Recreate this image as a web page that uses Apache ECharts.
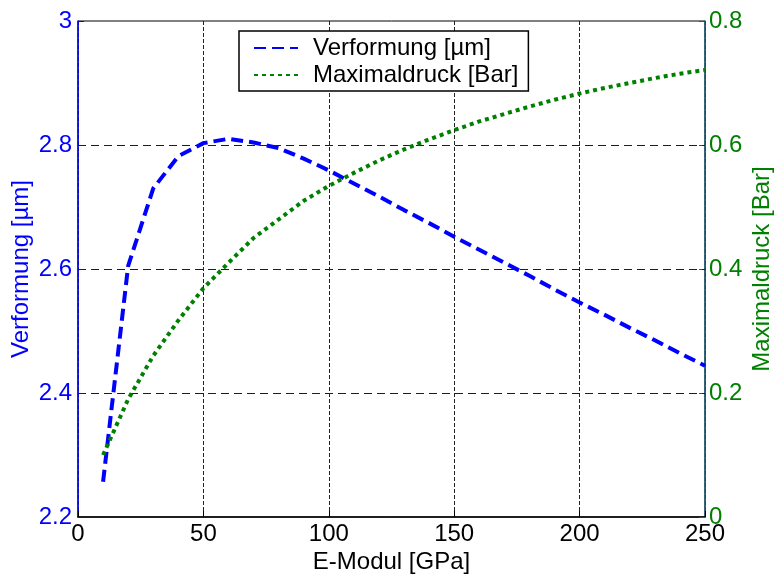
<!DOCTYPE html>
<html>
<head>
<meta charset="utf-8">
<script src="https://cdn.jsdelivr.net/npm/echarts@6/dist/echarts.min.js"></script>
<style>
  html, body { margin: 0; padding: 0; background: #fff; }
  #chart { width: 775px; height: 576px; }
</style>
</head>
<body>
<div id="chart"></div>
<script>
// E-Modul in GPa
const eModul = [10, 20, 30, 40, 50, 60, 70, 80, 90, 100, 110, 120, 130, 140, 150,
  160, 170, 180, 190, 200, 210, 220, 230, 240, 250];
// Verformung in µm (left axis)
const verformung = [2.257, 2.605, 2.73, 2.782, 2.803, 2.81, 2.804, 2.795, 2.778, 2.759,
  2.738, 2.717, 2.695, 2.674, 2.652, 2.631, 2.61, 2.589, 2.567, 2.546,
  2.526, 2.505, 2.485, 2.464, 2.444];
// Maximaldruck in Bar (right axis)
const maximaldruck = [0.1, 0.19, 0.26, 0.317, 0.369, 0.41, 0.45, 0.48, 0.51, 0.534,
  0.555, 0.575, 0.593, 0.609, 0.624, 0.638, 0.65, 0.662, 0.673, 0.683,
  0.692, 0.7, 0.708, 0.715, 0.721];
// inner horizontal grid lines of the left axis
const leftGridTicks = [2.4, 2.6, 2.8];

const blue = '#0000ff';
const green = '#008000';
const font = 'Liberation Sans, Arial, Helvetica, sans-serif';

const chart = echarts.init(document.getElementById('chart'), null, { renderer: 'canvas' });

const fmt = v => (Math.round(v * 10) / 10 === v ? String(v) : v.toFixed(1));

chart.setOption({
  animation: false,
  backgroundColor: '#fff',
  textStyle: { fontFamily: font },
  grid: {
    left: 78, right: 70, top: 21, bottom: 59,
    outerBoundsMode: 'none',
    show: true, borderColor: '#000', borderWidth: 1
  },
  legend: {
    orient: 'vertical',
    left: 239, top: 31,
    padding: [5, 10, 4, 14],
    itemGap: 3,
    itemWidth: 44, itemHeight: 14,
    backgroundColor: '#fff',
    borderColor: '#000', borderWidth: 1.5,
    itemStyle: { opacity: 0 },
    textStyle: { fontSize: 24, color: '#000', fontFamily: font, padding: [0, 0, 0, 10] },
    data: ['Verformung [µm]', 'Maximaldruck [Bar]']
  },
  xAxis: {
    type: 'value', min: 0, max: 250, interval: 50,
    name: 'E-Modul [GPa]', nameLocation: 'middle', nameGap: 33, nameMoveOverlap: false,
    nameTextStyle: { fontSize: 24, color: '#000', fontFamily: font },
    axisLine: { lineStyle: { color: '#000', width: 1.5 } },
    axisTick: { inside: true, length: 6, lineStyle: { color: '#000' } },
    axisLabel: { fontSize: 24, color: '#000', margin: 5, fontFamily: font },
    splitLine: { show: true, lineStyle: { color: '#222', type: 'dashed', width: 1 } }
  },
  yAxis: [{
    type: 'value', min: 2.2, max: 3, interval: 0.2, position: 'left',
    name: 'Verformung [µm]', nameLocation: 'middle', nameGap: 45, nameRotate: 90,
    nameMoveOverlap: false,
    nameTextStyle: { fontSize: 24, color: blue, fontFamily: font },
    axisLine: { show: true, lineStyle: { color: blue, width: 1.5 } },
    axisTick: { show: true, inside: true, length: 6, lineStyle: { color: blue } },
    axisLabel: { fontSize: 24, color: blue, margin: 6, fontFamily: font, formatter: fmt },
    splitLine: { show: false }
  }, {
    type: 'value', min: 0, max: 0.8, interval: 0.2, position: 'right',
    name: 'Maximaldruck [Bar]', nameLocation: 'middle', nameGap: 45, nameRotate: 90,
    nameMoveOverlap: false,
    nameTextStyle: { fontSize: 24, color: green, fontFamily: font },
    axisLine: { show: true, lineStyle: { color: '#1b5a78', width: 1.5 } },
    axisTick: { show: true, inside: true, length: 6, lineStyle: { color: green } },
    axisLabel: { fontSize: 24, color: green, margin: 4, fontFamily: font, formatter: fmt },
    splitLine: { show: false }
  }],
  series: [{
    name: 'Verformung [µm]',
    type: 'line',
    yAxisIndex: 0,
    data: eModul.map((x, i) => [x, verformung[i]]),
    symbol: 'none',
    color: blue,
    lineStyle: { color: blue, width: 4, type: [12, 6] },
    z: 3,
    markLine: {
      silent: true,
      symbol: 'none',
      label: { show: false },
      z: 1,
      lineStyle: { color: blue, type: [8, 5], width: 1 },
      data: leftGridTicks.map(v => ({ yAxis: v }))
    }
  }, {
    name: 'Maximaldruck [Bar]',
    type: 'line',
    yAxisIndex: 1,
    data: eModul.map((x, i) => [x, maximaldruck[i]]),
    symbol: 'none',
    color: green,
    lineStyle: { color: green, width: 4, type: [4, 4] },
    z: 3
  }]
});
</script>
</body>
</html>
